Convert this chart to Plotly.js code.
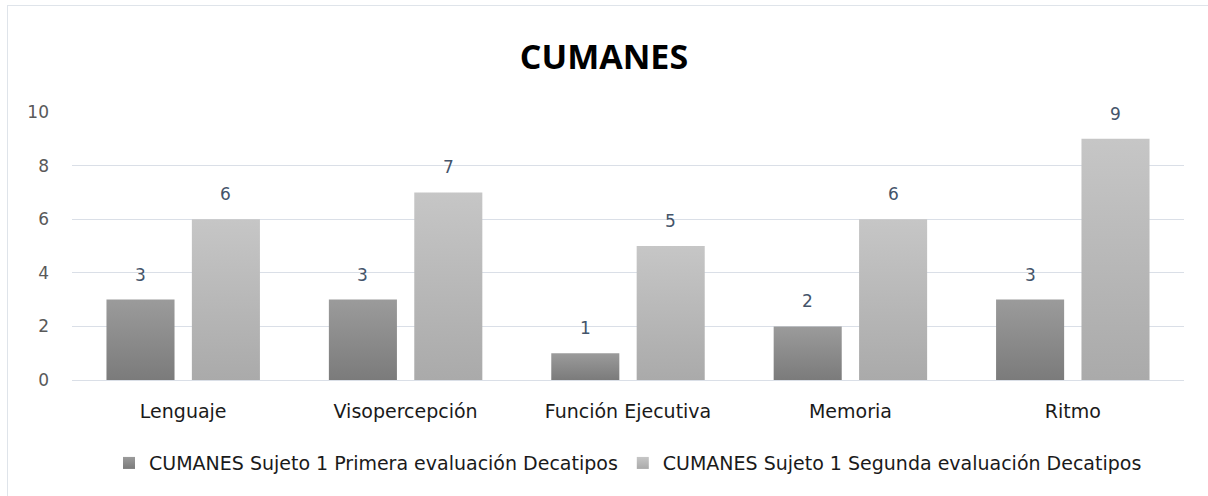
<!DOCTYPE html>
<html>
<head>
<meta charset="utf-8">
<script src="https://cdn.plot.ly/plotly-3.0.1.min.js"></script>
<style>
  html, body { margin: 0; padding: 0; background: #fff; }
  #wrap { position: relative; width: 1208px; height: 496px; }
  #chart { position: absolute; left: 0; top: 0; width: 1208px; height: 496px; }
  #frame { position: absolute; left: 7px; top: 5px; width: 1220px; height: 520px;
           border-top: 1px solid #dfe4ea; border-left: 1px solid #dfe4ea; pointer-events: none; }
</style>
</head>
<body>
<div id="wrap">
  <div id="chart"></div>
  <div id="frame"></div>
</div>
<script>
const categories = ["Lenguaje", "Visopercepción", "Función Ejecutiva", "Memoria", "Ritmo"];
const primera = [3, 3, 1, 2, 3];
const segunda = [6, 7, 5, 6, 9];
const seriesNames = [
  "CUMANES Sujeto 1 Primera evaluación Decatipos",
  "CUMANES Sujeto 1 Segunda evaluación Decatipos"
];
const yTicks = [0, 2, 4, 6, 8, 10];

const barW = 0.306;
const off1 = -0.345, off2 = 0.039;
const xIdx = categories.map((c, i) => i);

const traces = [
  { type: 'bar', x: xIdx, y: primera, name: seriesNames[0],
    width: barW, offset: off1, marker: { color: '#8c8c8c', line: { width: 0 } }, hoverinfo: 'none' },
  { type: 'bar', x: xIdx, y: segunda, name: seriesNames[1],
    width: barW, offset: off2, marker: { color: '#b9b9b9', line: { width: 0 } }, hoverinfo: 'none' }
];

const FF = 'DejaVu Sans';
const labelFont = { family: FF, size: 17, color: '#44546a' };
const annotations = [];
primera.forEach((v, i) => annotations.push({ x: i + off1 + barW / 2, y: v, xref: 'x', yref: 'y',
  text: String(v), showarrow: false, yanchor: 'middle', yshift: 25, font: labelFont }));
segunda.forEach((v, i) => annotations.push({ x: i + off2 + barW / 2, y: v, xref: 'x', yref: 'y',
  text: String(v), showarrow: false, yanchor: 'middle', yshift: 25, font: labelFont }));

const layout = {
  width: 1208, height: 496,
  paper_bgcolor: 'rgba(0,0,0,0)', plot_bgcolor: 'rgba(0,0,0,0)',
  margin: { l: 72, r: 24, t: 112, b: 116 },
  title: { text: '<b>CUMANES</b>', x: 0.5, xanchor: 'center', y: 1 - 57 / 496, yanchor: 'middle',
    font: { family: 'Open Sans', size: 34, color: '#000' } },
  barmode: 'overlay',
  showlegend: true,
  legend: { orientation: 'h', x: 0.5, xanchor: 'center', y: -0.31, yanchor: 'middle',
    font: { family: FF, size: 19, color: '#1a1a1a' },
    itemwidth: 30, tracegroupgap: 0 },
  xaxis: { type: 'linear', range: [-0.5, 4.5], tickmode: 'array', tickvals: xIdx, ticktext: categories,
    showgrid: false, zeroline: false, showline: false, ticks: '',
    ticklabelstandoff: 18,
    tickfont: { family: FF, size: 19, color: '#1a1a1a' }, fixedrange: true },
  yaxis: { range: [0, 10], tickmode: 'array', tickvals: yTicks, ticktext: yTicks.map(String),
    showgrid: true, gridcolor: '#dadfe7', gridwidth: 1, zeroline: true, zerolinecolor: '#dadfe7',
    zerolinewidth: 1, showline: false, ticks: '', ticklabelstandoff: 22,
    tickfont: { family: FF, size: 17, color: '#595959' }, fixedrange: true },
  annotations: annotations
};

Plotly.newPlot('chart', traces, layout, { displayModeBar: false, staticPlot: true }).then(gd => {
  const svg = gd.querySelector('.main-svg');
  const ns = 'http://www.w3.org/2000/svg';
  let defs = svg.querySelector('defs');
  if (!defs) { defs = document.createElementNS(ns, 'defs'); svg.insertBefore(defs, svg.firstChild); }
  function grad(id, top, bottom) {
    const g = document.createElementNS(ns, 'linearGradient');
    g.setAttribute('id', id); g.setAttribute('x1', '0'); g.setAttribute('y1', '0');
    g.setAttribute('x2', '0'); g.setAttribute('y2', '1');
    [[0, top], [1, bottom]].forEach(([o, c]) => {
      const s = document.createElementNS(ns, 'stop');
      s.setAttribute('offset', o); s.setAttribute('stop-color', c); g.appendChild(s);
    });
    defs.appendChild(g);
  }
  grad('gDark', '#9b9b9b', '#7b7b7b');
  grad('gLight', '#c6c6c6', '#aaaaaa');
  const ids = ['gDark', 'gLight'];
  gd.querySelectorAll('.barlayer .trace').forEach((t, i) => {
    t.querySelectorAll('path').forEach(p => { p.style.fill = 'url(#' + ids[i] + ')'; });
  });
  gd.querySelectorAll('.legend .traces').forEach((t, i) => {
    t.querySelectorAll('.legendpoints path').forEach(p => { p.style.fill = 'url(#' + ids[i] + ')'; });
  });
});
</script>
</body>
</html>
